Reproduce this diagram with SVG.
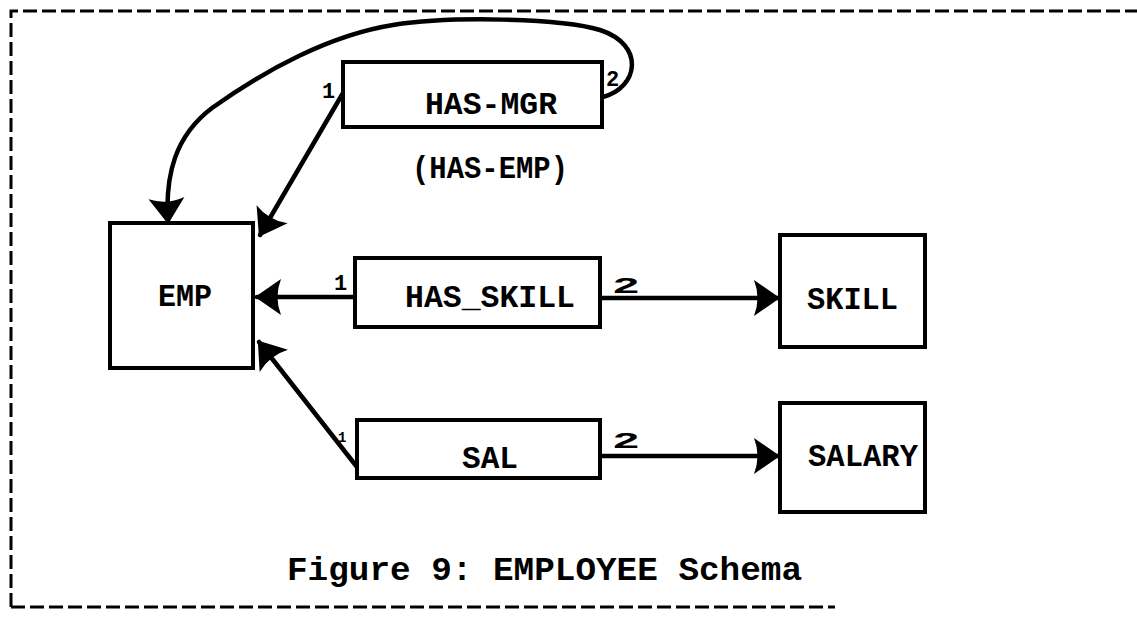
<svg xmlns="http://www.w3.org/2000/svg" width="1137" height="618" viewBox="0 0 1137 618">
  <style>
    .box { fill: #fff; stroke: #000; stroke-width: 4; }
    .lbl { font-family: "Liberation Mono", "DejaVu Sans Mono", monospace; font-weight: bold; font-size: 32px; fill: #000; }
    .cap { font-family: "Liberation Mono", "DejaVu Sans Mono", monospace; font-weight: bold; font-size: 34px; fill: #000; }
    .num { font-family: "Liberation Mono", "DejaVu Sans Mono", monospace; font-weight: bold; font-size: 22px; fill: #000; }
    .edge { fill: none; stroke: #000; stroke-width: 4.5; stroke-linecap: round; }
    .frame { fill: none; stroke: #000; stroke-width: 3; stroke-dasharray: 14 5; }
  </style>
  <defs>
    <marker id="head" markerUnits="userSpaceOnUse" markerWidth="44" markerHeight="44" viewBox="-28 -22 32 44" refX="0" refY="0" orient="auto">
      <path d="M2,0 L-24,-18 Q-17,0 -24,18 Z" fill="#000"/>
    </marker>
  </defs>

  <!-- dashed figure frame -->
  <g id="frame">
    <path class="frame" d="M11,607 L11,11 L1137,11"/>
    <path class="frame" d="M11,607 L835,607"/>
  </g>

  <!-- connectors -->
  <g id="connectors">
    <path class="edge" d="M603,97 C638,88 646,45 600,30 C560,18 450,16 393,25 C330,35 265,70 212,108 C175,136 165,175 168,222" marker-end="url(#head)"/>
    <path class="edge" d="M343,93 L260,235" marker-end="url(#head)"/>
    <path class="edge" d="M355,297 L257,297" marker-end="url(#head)"/>
    <path class="edge" d="M357,467 L259,342" marker-end="url(#head)"/>
    <path class="edge" d="M600,298 L778,298" marker-end="url(#head)"/>
    <path class="edge" d="M600,456 L778,456" marker-end="url(#head)"/>
    <text class="num" x="322" y="98">1</text>
    <text class="num" x="606" y="86">2</text>
    <text class="num" x="334" y="290">1</text>
    <text class="num" x="612" y="293" textLength="28" lengthAdjust="spacingAndGlyphs">2</text>
    <text class="num" x="338" y="442" style="font-size:14px">1</text>
    <text class="num" x="612" y="448" textLength="28" lengthAdjust="spacingAndGlyphs">2</text>
  </g>

  <g id="node-emp">
    <rect class="box" x="110" y="223" width="143" height="145"/>
    <text class="lbl" x="158" y="306" textLength="54" lengthAdjust="spacingAndGlyphs">EMP</text>
  </g>

  <g id="node-has-mgr">
    <rect class="box" x="343" y="62" width="259" height="65"/>
    <text class="lbl" x="425" y="114" textLength="132" lengthAdjust="spacingAndGlyphs">HAS-MGR</text>
    <text class="lbl" x="412" y="178" textLength="156" lengthAdjust="spacingAndGlyphs">(HAS-EMP)</text>
  </g>

  <g id="node-has-skill">
    <rect class="box" x="355" y="258" width="245" height="69"/>
    <text class="lbl" x="405" y="307" textLength="170" lengthAdjust="spacingAndGlyphs">HAS_SKILL</text>
  </g>

  <g id="node-sal">
    <rect class="box" x="357" y="420" width="243" height="58"/>
    <text class="lbl" x="462" y="468" textLength="56" lengthAdjust="spacingAndGlyphs">SAL</text>
  </g>

  <g id="node-skill">
    <rect class="box" x="780" y="235" width="145" height="112"/>
    <text class="lbl" x="807" y="309" textLength="91" lengthAdjust="spacingAndGlyphs">SKILL</text>
  </g>

  <g id="node-salary">
    <rect class="box" x="780" y="403" width="145" height="109"/>
    <text class="lbl" x="808" y="466" textLength="110" lengthAdjust="spacingAndGlyphs">SALARY</text>
  </g>

  <g id="caption">
    <text class="cap" x="287" y="580" textLength="515" lengthAdjust="spacingAndGlyphs">Figure 9: EMPLOYEE Schema</text>
  </g>
</svg>
